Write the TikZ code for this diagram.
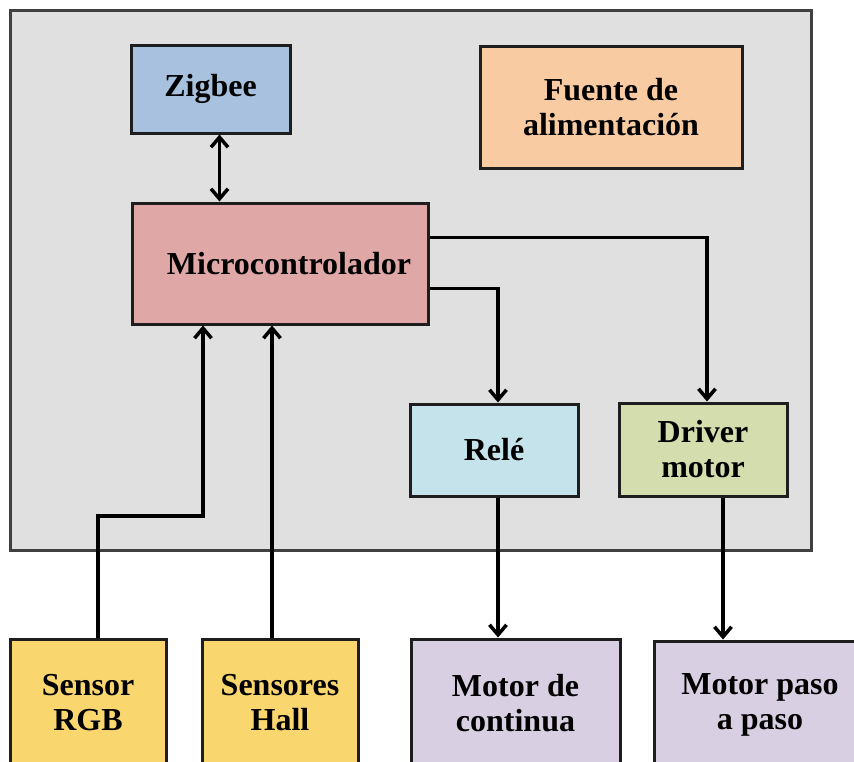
\documentclass[tikz,border=0pt]{standalone}
\usepackage{fontspec}
\setmainfont{Liberation Serif}
\usepackage{tikz}
\usetikzlibrary{arrows.meta, positioning, shadows}

\definecolor{panelgray}{HTML}{E0E0E0}
\definecolor{zigblue}{HTML}{A7C1DF}
\definecolor{fuenteorange}{HTML}{F9CBA3}
\definecolor{mcured}{HTML}{E0A7A7}
\definecolor{relecyan}{HTML}{C5E3EA}
\definecolor{drivergreen}{HTML}{D3DDAE}
\definecolor{sensoryellow}{HTML}{F9D66E}
\definecolor{motorlilac}{HTML}{D8CFE3}
\definecolor{edgegray}{HTML}{1E1E1E}

\begin{document}
\begin{tikzpicture}[
    x=1pt, y=-1pt,
    every node/.style={font=\bfseries\fontsize{32}{35}\selectfont},
    box/.style={rectangle, draw=edgegray, line width=3pt, align=center, inner sep=0pt,
        drop shadow={shadow xshift=1.5pt, shadow yshift=-1.5pt, opacity=0.3}},
    panel/.style={rectangle, draw=edgegray!85, line width=3pt, fill=panelgray, inner sep=0pt,
        drop shadow={shadow xshift=1.5pt, shadow yshift=-1.5pt, opacity=0.3}},
    arrow/.style={-{Straight Barb[length=10pt, width=17pt]}, line width=3.5pt},
    dblarrow/.style={{Straight Barb[length=10pt, width=17pt]}-{Straight Barb[length=10pt, width=17pt]}, line width=3.5pt}
]

\clip (0,0) rectangle (854,761);

% ============ PLACA (GRAY PANEL) ============
\node[panel, minimum width=801pt, minimum height=540pt] (placa) at (410.5, 280) {};

% Zigbee
\node[box, fill=zigblue, minimum width=159pt, minimum height=88pt] (zigbee) at (210.5, 89) {Zigbee};

% Fuente
\node[box, fill=fuenteorange, minimum width=262pt, minimum height=122pt] (fuente) at (611, 107) {Fuente de\\alimentación};

% Microcontrolador
\node[box, fill=mcured, minimum width=296pt, minimum height=121pt] (mcu) at (280, 263.5) {\hspace*{18pt}Microcontrolador};

% Rele y driver
\node[box, fill=relecyan, minimum width=168pt, minimum height=92pt] (rele) at (494, 450) {Relé};
\node[box, fill=drivergreen, minimum width=168pt, minimum height=93pt] (driver) at (703, 449.5) {Driver\\motor};

% ============ EXTERNOS (BOTTOM) ============
\node[box, fill=sensoryellow, minimum width=156pt, minimum height=128pt] (s_rgb) at (88, 703) {Sensor\\RGB};
\node[box, fill=sensoryellow, minimum width=156pt, minimum height=128pt] (s_hall) at (280, 703) {Sensores\\Hall};
\node[box, fill=motorlilac, minimum width=209pt, minimum height=128pt] (m_dc) at (515.5, 703) {Motor de\\continua};
\node[box, fill=motorlilac, minimum width=212pt, minimum height=128pt] (m_pap) at (760, 705) {Motor paso\\a paso};

% Arrows
\draw[dblarrow] ([xshift=9pt]zigbee.south) -- ([xshift=9pt]zigbee.south |- mcu.north);
\draw[arrow] ([yshift=26pt]mcu.east) -| ([xshift=4pt]driver.north);
\draw[arrow] ([yshift=-25pt]mcu.east) -| ([xshift=4pt]rele.north);
\draw[arrow] ([xshift=4pt]rele.south) -- ([xshift=4pt]rele.south |- m_dc.north);
\draw[arrow] ([xshift=20pt]driver.south) -- ([xshift=20pt]driver.south |- m_pap.north);

% Sensor inputs
\coordinate (rgb_bend) at (203, 516);
\draw[arrow] ([xshift=10pt]s_rgb.north) |- (rgb_bend) -- (rgb_bend |- mcu.south);
\draw[arrow] ([xshift=-8pt]s_hall.north) -- ([xshift=-8pt]s_hall.north |- mcu.south);

\end{tikzpicture}
\end{document}
